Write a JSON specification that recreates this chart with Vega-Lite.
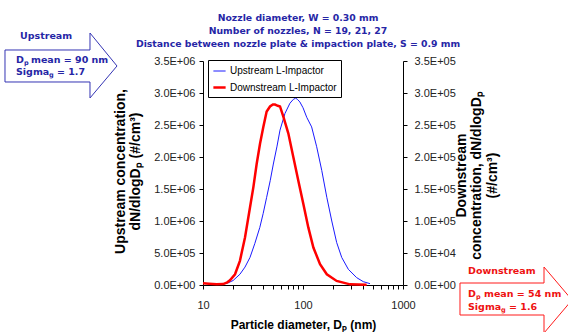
{
  "$schema": "https://vega.github.io/schema/vega-lite/v6.json",
  "width": 200,
  "height": 224,
  "autosize": {"type": "none"},
  "padding": {"left": 203, "top": 61, "right": 165, "bottom": 47},
  "background": "white",
  "config": {
    "view": {"stroke": null},
    "axis": {"grid": false, "domainColor": "black", "tickColor": "black", "labelColor": "#222", "labelFont": "Liberation Sans", "labelFontSize": 11, "titleFont": "Liberation Sans", "titleFontWeight": "bold", "titleColor": "black", "tickSize": 4}
  },
  "title": {
    "text": ["Nozzle diameter, W = 0.30 mm", "Number of nozzles, N = 19, 21, 27", "Distance between nozzle plate & impaction plate, S = 0.9 mm"],
    "font": "DejaVu Sans", "fontSize": 9.3, "fontWeight": "bold", "color": "#2626a6",
    "anchor": "middle", "frame": "group", "offset": -18, "lineHeight": 13, "dx": -5
  },
  "datasets": {
    "curves": [
      {"series": "Upstream L-Impactor", "d": 15, "conc": 10000},
      {"series": "Upstream L-Impactor", "d": 17.9, "conc": 35000},
      {"series": "Upstream L-Impactor", "d": 20, "conc": 70000},
      {"series": "Upstream L-Impactor", "d": 23.4, "conc": 168000},
      {"series": "Upstream L-Impactor", "d": 26.3, "conc": 280000},
      {"series": "Upstream L-Impactor", "d": 29.5, "conc": 430000},
      {"series": "Upstream L-Impactor", "d": 33, "conc": 650000},
      {"series": "Upstream L-Impactor", "d": 37, "conc": 900000},
      {"series": "Upstream L-Impactor", "d": 40, "conc": 1120000},
      {"series": "Upstream L-Impactor", "d": 43.3, "conc": 1370000},
      {"series": "Upstream L-Impactor", "d": 47, "conc": 1630000},
      {"series": "Upstream L-Impactor", "d": 50.5, "conc": 1890000},
      {"series": "Upstream L-Impactor", "d": 55, "conc": 2170000},
      {"series": "Upstream L-Impactor", "d": 58.9, "conc": 2420000},
      {"series": "Upstream L-Impactor", "d": 66, "conc": 2680000},
      {"series": "Upstream L-Impactor", "d": 74, "conc": 2840000},
      {"series": "Upstream L-Impactor", "d": 80, "conc": 2900000},
      {"series": "Upstream L-Impactor", "d": 84.5, "conc": 2920000},
      {"series": "Upstream L-Impactor", "d": 88, "conc": 2900000},
      {"series": "Upstream L-Impactor", "d": 93, "conc": 2860000},
      {"series": "Upstream L-Impactor", "d": 100, "conc": 2770000},
      {"series": "Upstream L-Impactor", "d": 109, "conc": 2620000},
      {"series": "Upstream L-Impactor", "d": 122, "conc": 2470000},
      {"series": "Upstream L-Impactor", "d": 137, "conc": 2160000},
      {"series": "Upstream L-Impactor", "d": 154, "conc": 1790000},
      {"series": "Upstream L-Impactor", "d": 173, "conc": 1370000},
      {"series": "Upstream L-Impactor", "d": 194, "conc": 1000000},
      {"series": "Upstream L-Impactor", "d": 217, "conc": 665000},
      {"series": "Upstream L-Impactor", "d": 244, "conc": 430000},
      {"series": "Upstream L-Impactor", "d": 284, "conc": 245000},
      {"series": "Upstream L-Impactor", "d": 344, "conc": 115000},
      {"series": "Upstream L-Impactor", "d": 401, "conc": 52000},
      {"series": "Upstream L-Impactor", "d": 468, "conc": 21000},
      {"series": "Downstream L-Impactor", "d": 10, "conc": 2800},
      {"series": "Downstream L-Impactor", "d": 11.5, "conc": 2100},
      {"series": "Downstream L-Impactor", "d": 13.7, "conc": 1000},
      {"series": "Downstream L-Impactor", "d": 15.9, "conc": 1400},
      {"series": "Downstream L-Impactor", "d": 17.5, "conc": 4200},
      {"series": "Downstream L-Impactor", "d": 18.6, "conc": 7400},
      {"series": "Downstream L-Impactor", "d": 20.9, "conc": 16800},
      {"series": "Downstream L-Impactor", "d": 23.4, "conc": 37800},
      {"series": "Downstream L-Impactor", "d": 26.3, "conc": 74200},
      {"series": "Downstream L-Impactor", "d": 29.5, "conc": 121000},
      {"series": "Downstream L-Impactor", "d": 31.9, "conc": 153000},
      {"series": "Downstream L-Impactor", "d": 34.4, "conc": 189000},
      {"series": "Downstream L-Impactor", "d": 37.2, "conc": 221000},
      {"series": "Downstream L-Impactor", "d": 40.1, "conc": 247000},
      {"series": "Downstream L-Impactor", "d": 43.3, "conc": 271000},
      {"series": "Downstream L-Impactor", "d": 46.8, "conc": 279000},
      {"series": "Downstream L-Impactor", "d": 50, "conc": 282000},
      {"series": "Downstream L-Impactor", "d": 52.5, "conc": 282000},
      {"series": "Downstream L-Impactor", "d": 56, "conc": 280000},
      {"series": "Downstream L-Impactor", "d": 58.9, "conc": 279000},
      {"series": "Downstream L-Impactor", "d": 63.6, "conc": 263000},
      {"series": "Downstream L-Impactor", "d": 71.3, "conc": 237000},
      {"series": "Downstream L-Impactor", "d": 80, "conc": 200000},
      {"series": "Downstream L-Impactor", "d": 89.8, "conc": 163000},
      {"series": "Downstream L-Impactor", "d": 100.7, "conc": 127000},
      {"series": "Downstream L-Impactor", "d": 113, "conc": 90000},
      {"series": "Downstream L-Impactor", "d": 127, "conc": 58500},
      {"series": "Downstream L-Impactor", "d": 148, "conc": 32600},
      {"series": "Downstream L-Impactor", "d": 173, "conc": 16800},
      {"series": "Downstream L-Impactor", "d": 217, "conc": 6300},
      {"series": "Downstream L-Impactor", "d": 295, "conc": 1000},
      {"series": "Downstream L-Impactor", "d": 433, "conc": 300}
    ],
    "arrows": [
      {"shape": "up", "i": 0, "ax": 0.1047, "ay": 3672000},
      {"shape": "up", "i": 1, "ax": 0.7413, "ay": 3672000},
      {"shape": "up", "i": 2, "ax": 0.7413, "ay": 3937500},
      {"shape": "up", "i": 3, "ax": 1.380, "ay": 3422000},
      {"shape": "up", "i": 4, "ax": 0.7413, "ay": 2922000},
      {"shape": "up", "i": 5, "ax": 0.7413, "ay": 3172000},
      {"shape": "up", "i": 6, "ax": 0.1047, "ay": 3172000},
      {"shape": "up", "i": 7, "ax": 0.1047, "ay": 3672000},
      {"shape": "down", "i": 0, "ax": 3715, "ay": 31250},
      {"shape": "down", "i": 1, "ax": 25704, "ay": 31250},
      {"shape": "down", "i": 2, "ax": 25704, "ay": 281250},
      {"shape": "down", "i": 3, "ax": 48978, "ay": -234375},
      {"shape": "down", "i": 4, "ax": 25704, "ay": -750000},
      {"shape": "down", "i": 5, "ax": 25704, "ay": -468750},
      {"shape": "down", "i": 6, "ax": 3715, "ay": -468750},
      {"shape": "down", "i": 7, "ax": 3715, "ay": 31250}
    ],
    "notes": [
      {"grp": "up", "kind": "main", "t": "Upstream", "tx": 0.1479, "ty": 3890600},
      {"grp": "up", "kind": "main", "t": "D", "tx": 0.1349, "ty": 3515600},
      {"grp": "up", "kind": "sub", "t": "p", "tx": 0.1622, "ty": 3468800},
      {"grp": "up", "kind": "main", "t": "mean = 90 nm", "tx": 0.1905, "ty": 3515600},
      {"grp": "up", "kind": "main", "t": "Sigma", "tx": 0.1349, "ty": 3328100},
      {"grp": "up", "kind": "sub", "t": "g", "tx": 0.2884, "ty": 3281300},
      {"grp": "up", "kind": "main", "t": "= 1.7", "tx": 0.3467, "ty": 3328100},
      {"grp": "down", "kind": "main", "t": "Downstream", "tx": 4467, "ty": 218750},
      {"grp": "down", "kind": "main", "t": "D", "tx": 4467, "ty": -140625},
      {"grp": "down", "kind": "sub", "t": "p", "tx": 5370, "ty": -187500},
      {"grp": "down", "kind": "main", "t": "mean = 54 nm", "tx": 6457, "ty": -140625},
      {"grp": "down", "kind": "main", "t": "Sigma", "tx": 4467, "ty": -343750},
      {"grp": "down", "kind": "sub", "t": "g", "tx": 9550, "ty": -390625},
      {"grp": "down", "kind": "main", "t": "= 1.6", "tx": 11482, "ty": -343750}
    ]
  },
  "resolve": {"scale": {"x": "independent", "y": "independent", "color": "shared", "strokeWidth": "shared"}},
  "layer": [
    {
      "data": {"name": "curves"},
      "transform": [{"filter": "datum.series == 'Upstream L-Impactor'"}],
      "mark": {"type": "line", "clip": false},
      "encoding": {
        "x": {"field": "d", "type": "quantitative", "scale": {"type": "log", "domain": [10, 1000], "nice": false},
          "axis": {"values": [10, 20, 30, 40, 50, 60, 70, 80, 90, 100, 200, 300, 400, 500, 600, 700, 800, 900, 1000],
            "labelExpr": "datum.value == 10 ? '10' : datum.value == 100 ? '100' : datum.value == 1000 ? '1000' : ''",
            "labelOverlap": false, "labelFlush": false, "labelPadding": 10,
            "title": "Particle diameter, Dₚ (nm)", "titleFontSize": 12, "titlePadding": 9}},
        "y": {"field": "conc", "type": "quantitative", "scale": {"domain": [0, 3500000], "nice": false},
          "axis": {"orient": "left", "values": [0, 500000, 1000000, 1500000, 2000000, 2500000, 3000000, 3500000],
            "labelExpr": "replace(format(datum.value, '.1e'), 'e+', 'E+0')", "labelPadding": 4,
            "title": ["Upstream concentration,", "dN/dlogDₚ (#/cm³)"], "titleFontSize": 14, "titleLineHeight": 15.5,
            "titleAngle": 270, "titleX": -83, "titleY": 110, "titleAlign": "center", "titleBaseline": "middle"}},
        "color": {"field": "series", "type": "nominal",
          "scale": {"domain": ["Upstream L-Impactor", "Downstream L-Impactor"], "range": ["#1a1aff", "#ff0000"]},
          "legend": {"orient": "none", "legendX": 5, "legendY": -1, "title": null, "fillColor": "white", "strokeColor": "black",
            "padding": 4, "labelFont": "Liberation Sans", "labelFontSize": 10, "labelColor": "black", "symbolType": "stroke",
            "symbolSize": 150, "rowPadding": 4, "labelOffset": 3}},
        "strokeWidth": {"field": "series", "type": "nominal",
          "scale": {"domain": ["Upstream L-Impactor", "Downstream L-Impactor"], "range": [1, 2.5]},
          "legend": {"orient": "none", "legendX": 5, "legendY": -1, "title": null, "fillColor": "white", "strokeColor": "black",
            "padding": 4, "labelFont": "Liberation Sans", "labelFontSize": 10, "labelColor": "black", "symbolType": "stroke",
            "symbolSize": 150, "rowPadding": 4, "labelOffset": 3}}
      }
    },
    {
      "data": {"name": "curves"},
      "transform": [{"filter": "datum.series == 'Downstream L-Impactor'"}],
      "mark": {"type": "line", "clip": false},
      "encoding": {
        "x": {"field": "d", "type": "quantitative", "scale": {"type": "log", "domain": [10, 1000], "nice": false}, "axis": null},
        "y": {"field": "conc", "type": "quantitative", "scale": {"domain": [0, 350000], "nice": false},
          "axis": {"orient": "right", "values": [0, 50000, 100000, 150000, 200000, 250000, 300000, 350000],
            "labelExpr": "replace(format(datum.value, '.1e'), 'e+', 'E+0')", "labelPadding": 7,
            "title": ["Downstream", "concentration, dN/dlogDₚ", "(#/cm³)"], "titleFontSize": 14, "titleLineHeight": 15.5,
            "titleAngle": 270, "titleX": 58, "titleY": 114, "titleAlign": "center", "titleBaseline": "middle"}},
        "color": {"field": "series", "type": "nominal"},
        "strokeWidth": {"field": "series", "type": "nominal"}
      }
    },
    {
      "data": {"name": "arrows"},
      "transform": [{"filter": "datum.shape == 'up'"}],
      "mark": {"type": "line", "color": "#3434b4", "strokeWidth": 1, "clip": false},
      "encoding": {
        "x": {"field": "ax", "type": "quantitative", "scale": {"type": "log", "domain": [10, 1000], "nice": false}, "axis": null},
        "y": {"field": "ay", "type": "quantitative", "scale": {"domain": [0, 3500000], "nice": false, "zero": false}, "axis": null},
        "order": {"field": "i", "type": "quantitative"}
      }
    },
    {
      "data": {"name": "arrows"},
      "transform": [{"filter": "datum.shape == 'down'"}],
      "mark": {"type": "line", "color": "#ff1a1a", "strokeWidth": 1, "clip": false},
      "encoding": {
        "x": {"field": "ax", "type": "quantitative", "scale": {"type": "log", "domain": [10, 1000], "nice": false}, "axis": null},
        "y": {"field": "ay", "type": "quantitative", "scale": {"domain": [0, 3500000], "nice": false, "zero": false}, "axis": null},
        "order": {"field": "i", "type": "quantitative"}
      }
    },
    {
      "data": {"name": "notes"},
      "transform": [{"filter": "datum.grp == 'up' && datum.kind == 'main'"}],
      "mark": {"type": "text", "font": "DejaVu Sans", "fontWeight": "bold", "fontSize": 9.5, "align": "left", "baseline": "middle", "color": "#2626a6", "clip": false},
      "encoding": {
        "x": {"field": "tx", "type": "quantitative", "scale": {"type": "log", "domain": [10, 1000], "nice": false}, "axis": null},
        "y": {"field": "ty", "type": "quantitative", "scale": {"domain": [0, 3500000], "nice": false, "zero": false}, "axis": null},
        "text": {"field": "t"}
      }
    },
    {
      "data": {"name": "notes"},
      "transform": [{"filter": "datum.grp == 'up' && datum.kind == 'sub'"}],
      "mark": {"type": "text", "font": "DejaVu Sans", "fontWeight": "bold", "fontSize": 6.5, "align": "left", "baseline": "middle", "color": "#2626a6", "clip": false},
      "encoding": {
        "x": {"field": "tx", "type": "quantitative", "scale": {"type": "log", "domain": [10, 1000], "nice": false}, "axis": null},
        "y": {"field": "ty", "type": "quantitative", "scale": {"domain": [0, 3500000], "nice": false, "zero": false}, "axis": null},
        "text": {"field": "t"}
      }
    },
    {
      "data": {"name": "notes"},
      "transform": [{"filter": "datum.grp == 'down' && datum.kind == 'main'"}],
      "mark": {"type": "text", "font": "DejaVu Sans", "fontWeight": "bold", "fontSize": 9.5, "align": "left", "baseline": "middle", "color": "#ee1111", "clip": false},
      "encoding": {
        "x": {"field": "tx", "type": "quantitative", "scale": {"type": "log", "domain": [10, 1000], "nice": false}, "axis": null},
        "y": {"field": "ty", "type": "quantitative", "scale": {"domain": [0, 3500000], "nice": false, "zero": false}, "axis": null},
        "text": {"field": "t"}
      }
    },
    {
      "data": {"name": "notes"},
      "transform": [{"filter": "datum.grp == 'down' && datum.kind == 'sub'"}],
      "mark": {"type": "text", "font": "DejaVu Sans", "fontWeight": "bold", "fontSize": 6.5, "align": "left", "baseline": "middle", "color": "#ee1111", "clip": false},
      "encoding": {
        "x": {"field": "tx", "type": "quantitative", "scale": {"type": "log", "domain": [10, 1000], "nice": false}, "axis": null},
        "y": {"field": "ty", "type": "quantitative", "scale": {"domain": [0, 3500000], "nice": false, "zero": false}, "axis": null},
        "text": {"field": "t"}
      }
    }
  ]
}
